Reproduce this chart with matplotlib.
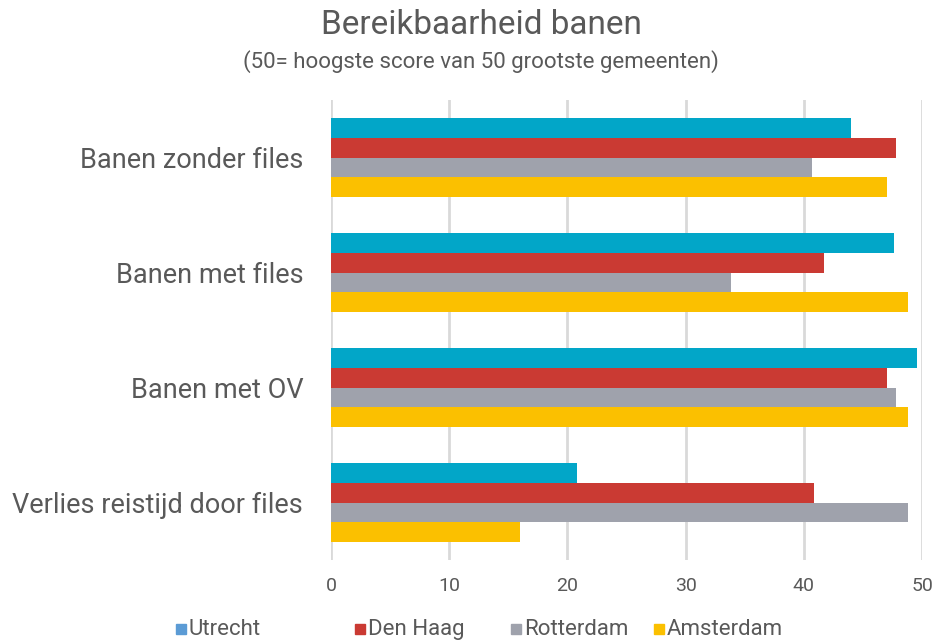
import numpy as np
import matplotlib.pyplot as plt
from matplotlib.patches import Rectangle

# categorieën en scores
categories = ["Banen zonder files", "Banen met files", "Banen met OV", "Verlies reistijd door files"]
series = ["Utrecht", "Den Haag", "Rotterdam", "Amsterdam"]
utrecht = [44.0, 47.6, 49.6, 20.8]
den_haag = [47.8, 41.7, 47.0, 40.9]
rotterdam = [40.7, 33.8, 47.8, 48.8]
amsterdam = [47.0, 48.8, 48.8, 16.0]

bar_colors = ["#02A6C8", "#CA3A33", "#9FA2AC", "#FBC000"]
legend_colors = ["#5B9BD5", "#CA3A33", "#9FA2AC", "#FBC000"]
text_color = "#595959"

plt.rcParams['font.family'] = ['Roboto', 'DejaVu Sans']

fig = plt.figure(figsize=(9.34, 6.42), dpi=100)
ax = fig.add_axes([0.3544, 0.1277, 0.6328, 0.7165])

values = [utrecht, den_haag, rotterdam, amsterdam]
y = np.arange(len(categories))
h = 0.17
for i, (vals, col) in enumerate(zip(values, bar_colors)):
    ax.barh(y + (i - 1.5) * h, vals, height=h, color=col, zorder=2)

ax.set_xlim(0, 50)
ax.set_ylim(len(categories) - 0.5, -0.5)
ax.set_xticks(np.arange(0, 51, 10))
ax.set_yticks(y)
ax.set_yticklabels(categories, fontsize=19.5, color=text_color)
ax.tick_params(axis='x', labelsize=14, colors=text_color, length=0, pad=12)
ax.tick_params(axis='y', length=0, pad=20)
ax.grid(axis='x', color="#D9D9D9", linewidth=2, zorder=0)
for s in ax.spines.values():
    s.set_visible(False)

fig.text(0.515, 0.961, "Bereikbaarheid banen", ha="center", va="center",
         fontsize=24, color=text_color)
fig.text(0.515, 0.904, "(50= hoogste score van 50 grootste gemeenten)", ha="center",
         va="center", fontsize=16, color=text_color)

# legenda onderaan
leg_x = [176, 355, 511, 654]
for name, col, lx in zip(series, legend_colors, leg_x):
    fig.patches.append(Rectangle((lx / 934, 0.0125), 10 / 934, 10 / 642,
                                 transform=fig.transFigure, color=col, figure=fig))
    fig.text((lx + 13) / 934, 0.02, name, ha="left", va="center",
             fontsize=16, color=text_color)

fig.savefig("out.png", dpi=100)
